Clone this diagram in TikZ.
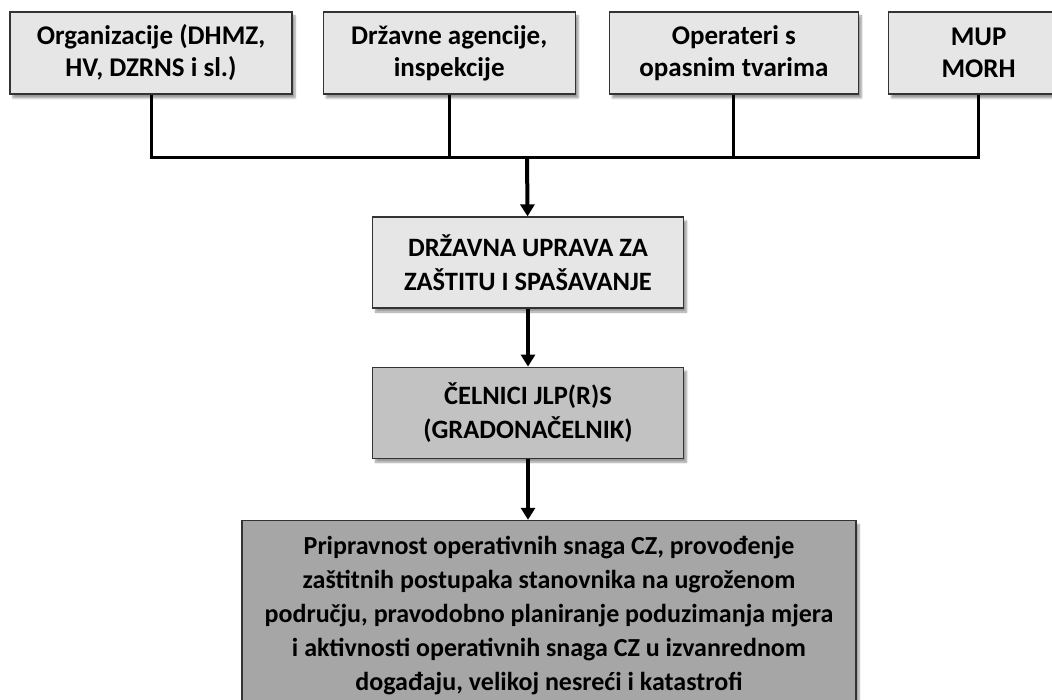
\documentclass[tikz,border=0pt]{standalone}
\usepackage{fontspec}
\setmainfont{Carlito}
\usetikzlibrary{positioning,shadows,shadows.blur,arrows.meta}

\definecolor{boxlight}{HTML}{E6E6E6}
\definecolor{boxmid}{HTML}{C2C2C2}
\definecolor{boxdark}{HTML}{A6A6A6}

\begin{document}
\begin{tikzpicture} [
    x=1pt, y=-1pt,
    thick,
    node distance=30pt,
  ]

  \tikzstyle{unit} = [
    rectangle,
    draw=black!80,
    line width=1.2pt,
    minimum height=82pt,
    align=center,
    font=\fontsize{27}{32}\selectfont\bfseries,
    blur shadow={shadow xshift=3pt, shadow yshift=-4pt, shadow blur steps=6},
  ]
  \tikzstyle{source} = [unit, fill=boxlight]
  \tikzstyle{level} = [unit, minimum width=311pt, minimum height=91pt,
                       font=\fontsize{26.5}{34}\selectfont\bfseries]
  \tikzstyle{wire} = [line width=3pt]
  \tikzstyle{flow} = [line width=4pt, -{Triangle[length=12pt,width=14pt]}]

  \useasboundingbox (0,0) rectangle (1052,700);

  \node[source, minimum width=282pt]                  (org)  at (151,53) {Organizacije (DHMZ,\\HV, DZRNS i sl.)};
  \node[source, minimum width=252pt, right=30pt of org]  (agen) {Državne agencije,\\inspekcije};
  \node[source, minimum width=249pt, right=33pt of agen] (oper) {Operateri s\\opasnim tvarima};
  \node[source, minimum width=180pt, right=29pt of oper] (mup)  {MUP\\MORH};

  \coordinate (bus) at (527,158);

  \node[level, fill=boxlight]              (duzs) at (528,262.5) {DRŽAVNA UPRAVA ZA\\ZAŠTITU I SPAŠAVANJE};
  \node[level, fill=boxmid, below=58pt of duzs] (celnik) {ČELNICI JLP(R)S\\(GRADONAČELNIK)};
  \node[unit, fill=boxdark, minimum width=614pt, minimum height=190pt,
        font=\fontsize{26}{34}\selectfont\bfseries,
        below=61pt of celnik, xshift=21pt]  (snage)
    {Pripravnost operativnih snaga CZ, provođenje\\
     zaštitnih postupaka stanovnika na ugroženom\\
     području, pravodobno planiranje poduzimanja mjera\\
     i aktivnosti operativnih snaga CZ u izvanrednom\\
     događaju, velikoj nesreći i katastrofi};

  \draw[wire] (org.south) |- (bus) -| (mup.south);
  \draw[wire] (agen.south) -- (agen.south |- bus);
  \draw[wire] (oper.south) -- (oper.south |- bus);

  \path[flow] (bus)    edge (duzs);
  \path[flow] (duzs)   edge (celnik);
  \path[flow] (celnik) edge (snage.north -| celnik);

\end{tikzpicture}
\end{document}
